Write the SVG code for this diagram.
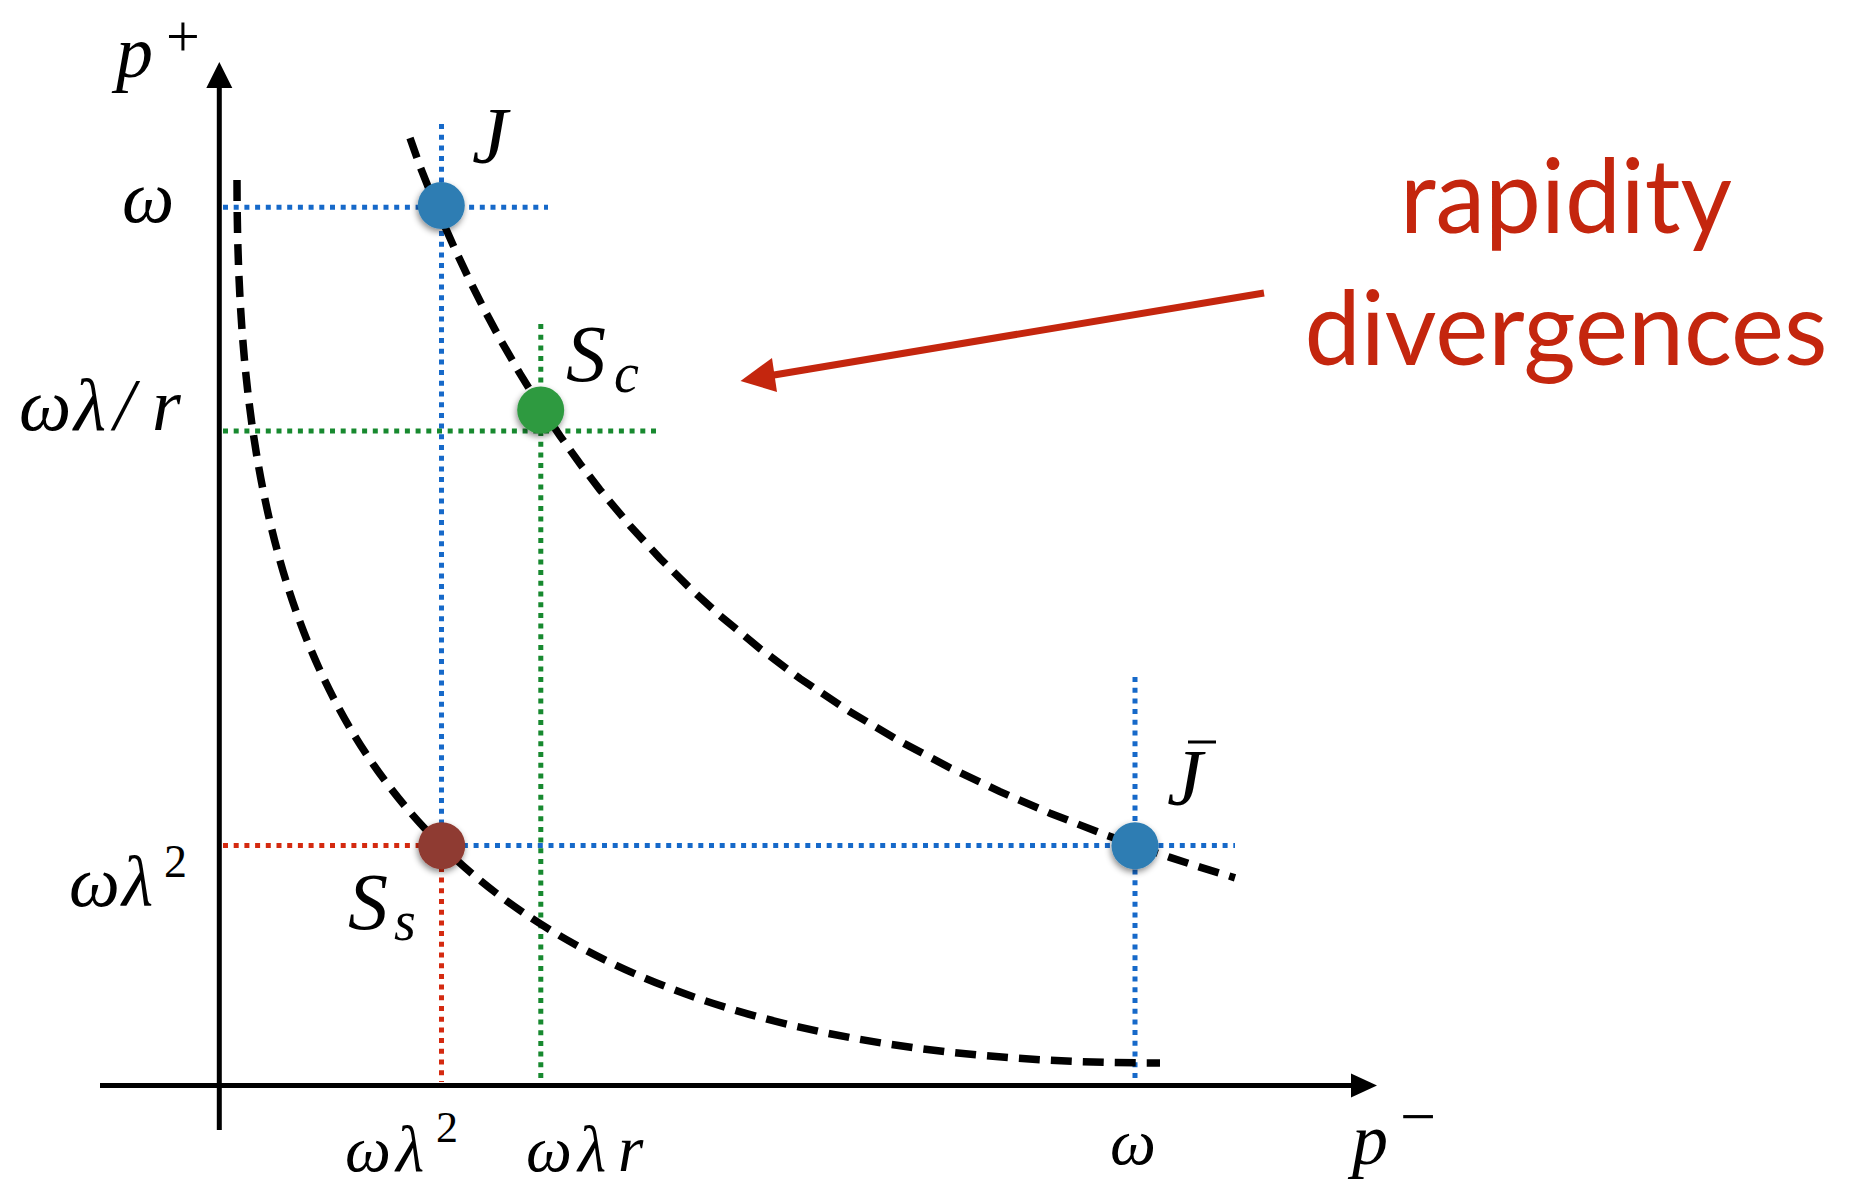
<svg xmlns="http://www.w3.org/2000/svg" width="1856" height="1187" viewBox="0 0 1856 1187">
<defs>
<style>
.axis{stroke:#000;stroke-width:5;fill:none}
.dot{fill:none;stroke-width:5;stroke-dasharray:5 5.7}
.blue{stroke:#1669c9}
.green{stroke:#17892f}
.red{stroke:#d42a10}
.curve{fill:none;stroke:#000;stroke-width:7.5;stroke-dasharray:21 11}
.m{font-family:"Liberation Serif","Times New Roman",serif;font-style:italic;fill:#000}
.u{font-family:"Liberation Serif","Times New Roman",serif;font-style:normal;fill:#000}
.lbl{font-family:Lato,"Open Sans",sans-serif;fill:#c4260e;text-anchor:middle;font-size:102px}
</style>
<filter id="sh" x="-50%" y="-50%" width="200%" height="200%">
<feDropShadow dx="-1" dy="3" stdDeviation="3" flood-color="#000" flood-opacity="0.45"/>
</filter>
</defs>
<rect width="1856" height="1187" fill="#fff"/>

<g id="axes">
<line class="axis" x1="219.3" y1="1130" x2="219.3" y2="84"/>
<polygon points="219.3,62 206.3,88 232.3,88" fill="#000"/>
<line class="axis" x1="100" y1="1085.5" x2="1354" y2="1085.5"/>
<polygon points="1377,1085.5 1351,1073.5 1351,1097.5" fill="#000"/>
</g>

<g id="guides">
<line class="dot blue" x1="223" y1="207.3" x2="548" y2="207.3"/>
<line class="dot blue" x1="441.5" y1="124" x2="441.5" y2="845.5"/>
<line class="dot green" x1="223" y1="431" x2="657" y2="431"/>
<line class="dot green" x1="540.8" y1="324" x2="540.8" y2="1082"/>
<line class="dot red" x1="223" y1="845.5" x2="441.5" y2="845.5"/>
<line class="dot red" x1="441.5" y1="845.5" x2="441.5" y2="1082"/>
<line class="dot blue" x1="441.5" y1="845.5" x2="1235" y2="845.5"/>
<line class="dot blue" x1="1135" y1="677" x2="1135" y2="1082"/>
</g>

<g id="curves">
<path class="curve" d="M410,138 L420,166.4 L430,191.5 L441.5,218.9 L455,249.3 L470,281.1 L485,310.9 L500,338.9 L520,373.7 L541,407.5 L560,435.9 L580,463.8 L600,489.8 L630,525.7 L660,558.4 L690,588.2 L720,615.6 L760,648.7 L800,678.5 L850,711.7 L900,741.3 L950,767.8 L1000,791.6 L1050,813.2 L1100,832.8 L1134,845.1 L1170,857.4 L1200,867.1 L1235,877.8"/>
<path class="curve" d="M237,180 C237,656 364,1063 1160,1063"/>
</g>

<g id="connectors">
<line x1="1264" y1="293" x2="768" y2="376" stroke="#c4260e" stroke-width="7"/>
<polygon points="740.5,381 772,358 777,392" fill="#c4260e"/>
</g>

<g id="node-J">
<circle cx="441.3" cy="205.5" r="23.5" fill="#2e7db3" filter="url(#sh)"/>
<text class="m" x="472" y="163" font-size="80">J</text>
</g>
<g id="node-Sc">
<circle cx="540.7" cy="410" r="23.5" fill="#2f9a40" filter="url(#sh)"/>
<text class="m" x="566" y="381" font-size="80">S</text>
<text class="m" x="614" y="392" font-size="56">c</text>
</g>
<g id="node-Ss">
<circle cx="441.7" cy="845.7" r="23.5" fill="#8f3a30" filter="url(#sh)"/>
<text class="m" x="348" y="929" font-size="80">S</text>
<text class="m" x="394" y="940" font-size="56">s</text>
</g>
<g id="node-Jbar">
<circle cx="1135" cy="845.7" r="23.5" fill="#2e7db3" filter="url(#sh)"/>
<text class="m" x="1167" y="805" font-size="80">J</text>
<line x1="1188" y1="742" x2="1216" y2="742" stroke="#000" stroke-width="3"/>
</g>

<g id="axis-labels">
<text class="m" x="116" y="77" font-size="74">p</text>
<text class="u" x="166" y="56" font-size="60">+</text>
<text class="m" x="122" y="222" font-size="74">ω</text>
<text class="m" y="430" font-size="74"><tspan x="19">ω</tspan><tspan x="74">λ</tspan><tspan x="114">/</tspan><tspan x="152">r</tspan></text>
<text class="m" y="906" font-size="72"><tspan x="69">ω</tspan><tspan x="122">λ</tspan></text>
<text class="u" x="164" y="877" font-size="46">2</text>
<text class="m" y="1171" font-size="65"><tspan x="345">ω</tspan><tspan x="396">λ</tspan></text>
<text class="u" x="436" y="1142" font-size="44">2</text>
<text class="m" y="1171" font-size="65"><tspan x="526">ω</tspan><tspan x="578">λ</tspan><tspan x="618">r</tspan></text>
<text class="m" x="1110" y="1164" font-size="65">ω</text>
<text class="m" x="1352" y="1164" font-size="72">p</text>
<text class="u" x="1400" y="1138" font-size="64">−</text>
</g>

<g id="annotation">
<text class="lbl" x="1566" y="233" textLength="332" lengthAdjust="spacingAndGlyphs">rapidity</text>
<text class="lbl" x="1566" y="365" textLength="523" lengthAdjust="spacingAndGlyphs">divergences</text>
</g>
</svg>
